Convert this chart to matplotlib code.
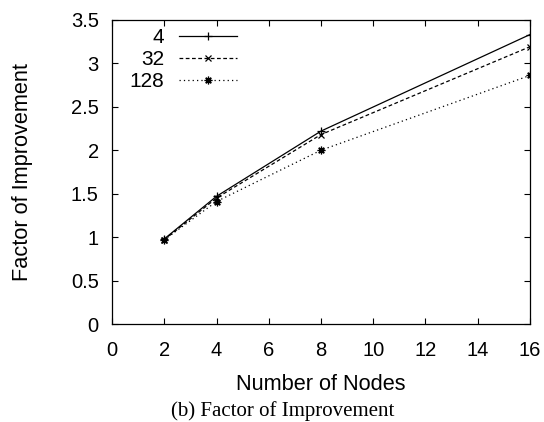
import matplotlib
matplotlib.use("Agg")
import matplotlib.pyplot as plt

# Speedup measured for each block size
nodes = [2, 4, 8, 16]
series_names = ["4", "32", "128"]
f_4 = [0.98, 1.47, 2.22, 3.33]
f_32 = [0.97, 1.45, 2.18, 3.19]
f_128 = [0.97, 1.41, 2.00, 2.86]

plt.rcParams['font.family'] = ['Liberation Sans', 'DejaVu Sans']

fig = plt.figure(figsize=(5.44, 4.22), dpi=100)
ax = fig.add_axes([0.206, 0.232, 0.768, 0.721])

ax.plot(nodes, f_4, color='k', lw=0.9, ls='-', marker='+', ms=6, mew=0.9, label=series_names[0])
ax.plot(nodes, f_32, color='k', lw=0.9, ls=(0, (3, 2)), marker='x', ms=4.5, mew=0.9, label=series_names[1])
ax.plot(nodes, f_128, color='k', lw=0.9, ls=(0, (1, 2.5)), marker=(8, 2, 0), ms=5.5, mew=0.9, label=series_names[2])

ax.set_xlim(0, 16)
ax.set_ylim(0, 3.5)
ax.set_xticks(range(0, 17, 2))
ax.set_yticks([0, 0.5, 1, 1.5, 2, 2.5, 3, 3.5])
ax.set_yticklabels(["0", "0.5", "1", "1.5", "2", "2.5", "3", "3.5"])
ax.tick_params(direction='in', length=4.5, width=0.8, top=True, right=True, labelsize=14.5)
ax.tick_params(axis='x', pad=12)
ax.tick_params(axis='y', pad=9.5)
for s in ax.spines.values():
    s.set_linewidth(0.9)

ax.set_xlabel("Number of Nodes", fontsize=15.7, labelpad=10.5)
ax.set_ylabel("Factor of Improvement", fontsize=15.7, labelpad=27)

leg = ax.legend(loc='upper left', markerfirst=False, frameon=False, fontsize=15,
                handlelength=2.8, handletextpad=0.7, labelspacing=0.15,
                borderaxespad=0.0, bbox_to_anchor=(0.022, 1.0))

fig.text(0.52, 0.026, "(b) Factor of Improvement", ha='center', va='center',
         fontsize=15, family='Liberation Serif')

fig.savefig("out.png", dpi=100)
